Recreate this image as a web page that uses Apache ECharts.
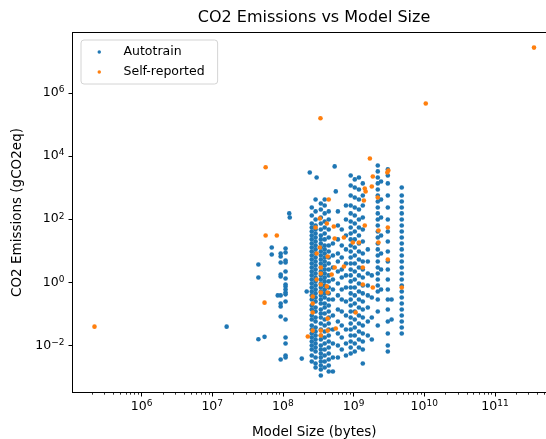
<!DOCTYPE html>
<html>
<head>
<meta charset="utf-8">
<script src="https://cdn.jsdelivr.net/npm/echarts@6/dist/echarts.min.js"></script>
<style>html,body{margin:0;padding:0;background:#fff;}#c{width:546px;height:439px;}</style>
</head>
<body>
<div id="c"></div>
<script>
// ---- Data ----
// Autotrain: model sizes (bytes), one per column, and emissions (gCO2eq) in each column
const autotrainSize = [1.6e7, 4.5e7, 5.5e7, 6.95e7, 8.45e7, 9.3e7, 1.09e8, 1.23e8, 1.25e8, 1.85e8, 2.17e8, 2.4e8,
  2.56e8, 2.9e8, 3.0e8, 3.44e8, 3.9e8, 4.45e8, 5.1e8, 5.4e8, 5.6e8, 6.0e8, 6.8e8, 7.8e8, 9.1e8, 1.04e9, 1.19e9,
  1.35e9, 1.59e9, 1.81e9, 2.2e9, 2.45e9, 3.05e9, 3.45e9, 4.8e9];
const autotrainCO2 = [
  [0.04],
  [3.7, 1.44, 0.016],
  [0.019],
  [12.8, 7.7],
  [0.39],
  [8.27, 6.65, 4.3, 1.79, 1.55, 0.39, 0.216, 0.174, 0.084, 0.00366],
  [11.9, 8.9, 4.97, 4.3, 2.23, 1.34, 0.86, 0.75, 0.6, 0.48, 0.42, 0.25, 0.0675, 0.0182, 0.0117, 0.0049, 0.00423],
  [153],
  [114],
  [0.0039],
  [0.52],
  [3000],
  [236,132,73.6,55,41.1,30.7,23,17.1,12.8,9.57,7.15,5.34,3.99,2.98,2.23,1.67,1.24,0.93,0.69,0.52,0.39,0.29,0.187,0.14,0.09,0.0675,0.0436,0.0326,0.0243,0.0182,0.0136,0.0101,0.00758,0.0049,0.00316],
  [423,177,98.6,63.6,47.5,35.5,26.5,19.8,14.8,11.1,8.27,6.18,4.62,3.45,2.58,1.93,1.44,1.08,0.8,0.6,0.45,0.335,0.25,0.162,0.121,0.078,0.0583,0.0377,0.0281,0.021,0.0157,0.0117,0.00877,0.00655,0.00423,0.00273,0.00204],
  [2100],
  [316,204,114,73.6,47.5,30.7,23,17.1,12.8,9.57,7.15,5.34,3.99,2.98,2.23,1.67,1.24,0.93,0.69,0.52,0.39,0.29,0.216,0.14,0.104,0.078,0.0504,0.0326,0.021,0.0157,0.0101,0.00758,0.00566,0.00423,0.00316,0.00236,0.00177,0.00114],
  [423,273,153,85.2,55,35.5,23,14.8,11.1,8.27,6.18,4.62,3.45,2.58,1.93,1.44,1.08,0.8,0.6,0.45,0.335,0.216,0.162,0.104,0.0675,0.0436,0.0281,0.0182,0.0117,0.00758,0.0049,0.00316,0.00204],
  [177,98.6,47.5,26.5,14.8,9.57,6.18,3.99,2.58,1.67,1.08,0.69,0.45,0.29,0.187,0.121,0.078,0.0504,0.0326,0.021,0.0136,0.00877,0.00566,0.00366,0.00236,0.00153],
  [17.1,7.15,2.98,1.24,0.6,0.29,0.09,0.0326,0.0117,0.00423,0.00153],
  [4700],
  [760],
  [177,63.6,23,8.27,4.62,2.23,0.93,0.39,0.14,0.0583,0.0243,0.0101,0.00423],
  [47.5,14.8,6.18,2.58,1.44,0.6,0.29,0.121,0.0436,0.0182,0.00758],
  [273,98.6,30.7,11.1,3.99,1.67,0.69,0.25,0.09,0.0326,0.0117,0.0049],
  [2430,1170,566,273,153,85.2,55,35.5,23,14.8,9.57,6.18,3.99,2.58,1.67,1.08,0.69,0.45,0.29,0.187,0.121,0.078,0.0504,0.0326,0.021,0.0136,0.00877,0.00566],
  [1820,1010,490,236,132,73.6,41.1,23,12.8,7.15,3.99,2.23,1.24,0.69,0.39,0.216,0.121,0.0675,0.0377,0.021,0.0117,0.00655],
  [2100,877,423,204,98.6,55,30.7,17.1,9.57,5.34,2.98,1.67,0.93,0.52,0.29,0.162,0.09,0.0504,0.0281,0.0157,0.00877],
  [1360,566,273,114,47.5,19.8,8.27,4.62,2.58,1.44,0.8,0.45,0.25,0.14,0.078,0.0436,0.0243,0.0136,0.00758,0.00273],
  [11.1,4.62,1.93,0.8,0.39,0.162,0.0583,0.021],
  [1.67,0.335,0.078,0.0157],
  [5040,3260,2100,1360,877,566,366,236,153,98.6,63.6,41.1,26.5,17.1,11.1,7.15,4.62,2.98,1.93,1.24,0.8,0.52,0.29,0.121,0.0436],
  [1570,423,114,30.7,8.27,2.58,0.6],
  [3770,2430,1360,566,236,98.6,41.1,19.8,9.57,4.62,2.58,1.24,0.6,0.29,0.14,0.0583,0.0243,0.0101,0.00655],
  [0.29,0.0675],
  [1010,566,366,236,153,98.6,63.6,41.1,26.5,17.1,11.1,7.15,4.62,2.98,1.93,1.24,0.8,0.52,0.335,0.216,0.14,0.09,0.0583,0.0377,0.0243]
];
// Self-reported points
const selfSize = [2.16e5, 3.57e11, 1.05e10, 3.4e8, 5.7e7, 5.7e7, 8.2e7, 5.5e7, 2.25e8, 1.7e9, 1.87e9, 3.0e9, 3.1e9,
  1.44e9, 1.48e9, 1.81e9, 2.2e9, 1.4e9, 4.45e8, 3.33e8, 2.9e8, 4.18e8, 5.25e8, 1.44e9, 2.25e9, 3.05e9, 7.3e8, 5.4e8,
  9.75e8, 1.19e9, 2.25e9, 3.33e8, 3.0e8, 4.3e8, 3.05e9, 7.3e8, 1.35e9, 3.44e8, 4.9e8, 3.44e8, 3.0e8, 3.44e8, 4.18e8,
  1.35e9, 1.87e9, 4.8e9, 2.64e8, 3.44e8, 4.3e8, 2.64e8, 1.07e9, 4.3e8, 2.64e8, 3.44e8, 4.3e8, 5.6e8, 3.44e8, 2.64e8, 5.4e8];
const selfCO2 = [0.04, 2.7e7, 4.6e5, 1.56e5, 4400, 30.7, 30.7, 0.23, 0.0196, 8400, 2260, 3000, 3500,
  944, 758, 1090, 490, 390, 423, 106, 55, 73.6, 59, 63.6, 44, 55, 26.5, 24.7,
  18.4, 18.4, 18.4, 12.8, 8.27, 6.65, 5.34, 3.2, 2.98, 2.98, 1.79, 1.93, 1.24, 0.86, 0.75,
  0.86, 0.69, 0.69, 0.36, 0.48, 0.48, 0.216, 0.112, 0.072, 0.030, 0.030, 0.030, 0.035, 0.021, 0.112, 2.98];

// Tick exponents and axis ranges
const xTickExp = [6, 7, 8, 9, 10, 11];
const yTickExp = [-2, 0, 2, 4, 6];
const xRange = [1.055e5, 7.31e11];
const yRange = [3.3e-4, 8.1e7];

// ---- Build ----
const L = Math.log10;
const autoData = [];
autotrainSize.forEach((s, i) => autotrainCO2[i].forEach(v => autoData.push([L(s), L(v)])));
const selfData = selfSize.map((s, i) => [L(s), L(selfCO2[i])]);

const minorX = [];
for (let n = 5; n <= 11; n++) for (let k = 2; k <= 9; k++) minorX.push(n + L(k));

const supFmt = v => '{b|10}{s|' + String(Math.round(v)).replace('-', '\u2212') + '}';
const font = 'DejaVu Sans';
const rich = {
  b: {fontFamily: font, fontSize: 12.5, color: '#000'},
  s: {fontFamily: font, fontSize: 9, color: '#000', padding: [0, 0, 6, 0]}
};

const chart = echarts.init(document.getElementById('c'), null, {renderer: 'canvas'});
chart.setOption({
  animation: false,
  backgroundColor: '#fff',
  title: {
    text: 'CO2 Emissions vs Model Size',
    left: 314, top: 10, textAlign: 'center', padding: 0,
    textStyle: {fontFamily: font, fontSize: 16, fontWeight: 'normal', color: '#000'}
  },
  legend: {
    orient: 'vertical', left: 81, top: 40,
    padding: [5, 13, 5, 16.5],
    itemWidth: 3.5, itemHeight: 3.5, itemGap: 6,
    backgroundColor: 'rgba(255,255,255,0.8)',
    borderColor: '#d4d4d4', borderWidth: 1, borderRadius: 3,
    textStyle: {fontFamily: font, fontSize: 12.5, color: '#000', lineHeight: 14, padding: [0, 0, 0, 17.5]},
    data: [{name: 'Autotrain', icon: 'circle'}, {name: 'Self-reported', icon: 'circle'}]
  },
  grid: {
    left: 72.5, top: 32.5, width: 483.5, height: 360,
    outerBoundsMode: 'none', containLabel: false,
    show: true, borderColor: '#000', borderWidth: 1, backgroundColor: 'transparent'
  },
  xAxis: [{
    type: 'value', min: L(xRange[0]), max: L(xRange[1]),
    name: 'Model Size (bytes)', nameLocation: 'middle', nameGap: 33,
    nameTextStyle: {fontFamily: font, fontSize: 13.5, color: '#000'},
    axisLine: {show: true, onZero: false, lineStyle: {color: '#000', width: 1}},
    splitLine: {show: false},
    axisTick: {show: true, customValues: xTickExp, length: 4, lineStyle: {color: '#000'}},
    axisLabel: {customValues: xTickExp, formatter: supFmt, rich: rich, margin: 7}
  }, {
    type: 'value', min: L(xRange[0]), max: L(xRange[1]), position: 'bottom',
    axisLine: {show: false, onZero: false}, splitLine: {show: false}, axisLabel: {show: false},
    axisTick: {show: true, customValues: minorX, length: 2.2, lineStyle: {color: '#000', width: 0.8}}
  }],
  yAxis: {
    type: 'value', min: L(yRange[0]), max: L(yRange[1]),
    name: 'CO2 Emissions (gCO2eq)', nameLocation: 'middle', nameGap: 48, nameRotate: 90,
    nameTextStyle: {fontFamily: font, fontSize: 13.5, color: '#000'},
    axisLine: {show: true, onZero: false, lineStyle: {color: '#000', width: 1}},
    splitLine: {show: false},
    axisTick: {show: true, customValues: yTickExp, length: 4, lineStyle: {color: '#000'}},
    axisLabel: {customValues: yTickExp, formatter: supFmt, rich: rich, margin: 8}
  },
  series: [{
    name: 'Autotrain', type: 'scatter', data: autoData, symbolSize: 4.6,
    itemStyle: {color: '#1f77b4', opacity: 1}
  }, {
    name: 'Self-reported', type: 'scatter', data: selfData, symbolSize: 4.6,
    itemStyle: {color: '#ff7f0e', opacity: 1}, z: 3
  }]
});
</script>
</body>
</html>
